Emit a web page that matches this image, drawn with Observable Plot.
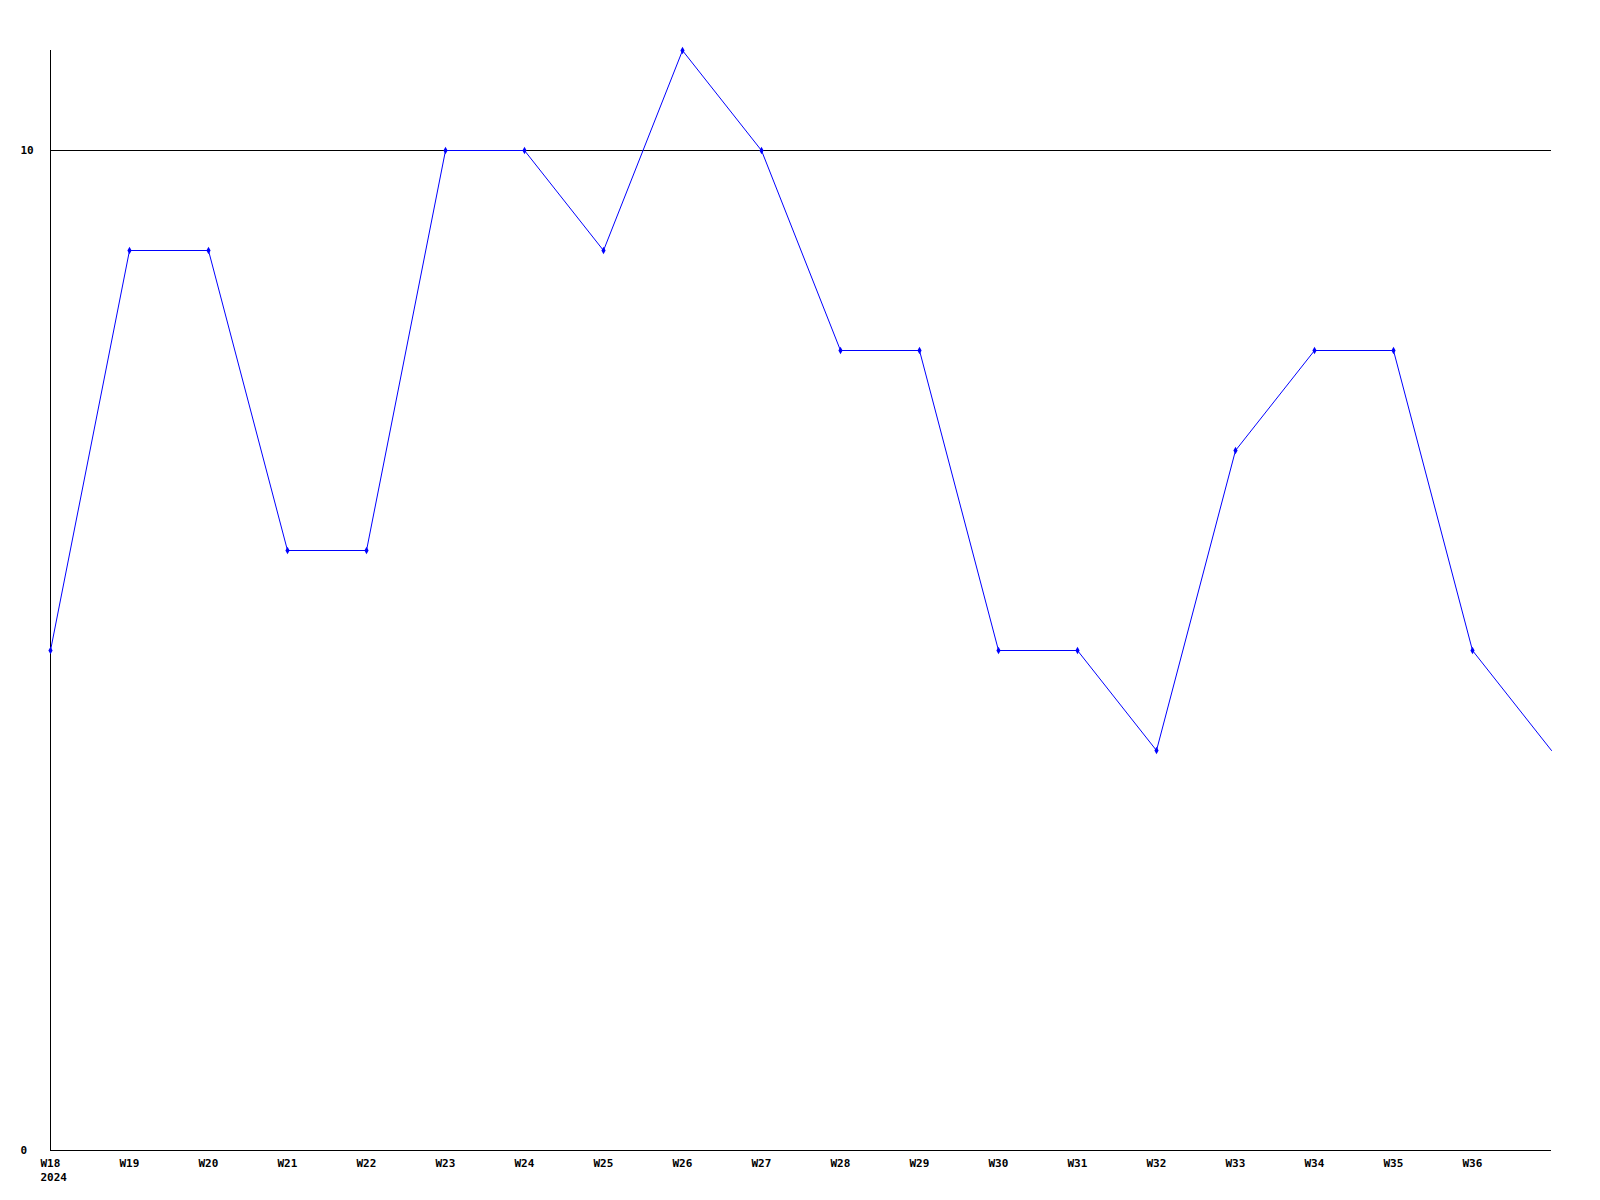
<!DOCTYPE html>
<html>
<head>
<meta charset="utf-8">
<script src="https://cdn.jsdelivr.net/npm/d3@7"></script>
<script src="https://cdn.jsdelivr.net/npm/@observablehq/plot@0.6"></script>
<style>
  html, body { margin: 0; padding: 0; background: #fff; }
  svg { display: block; }
</style>
</head>
<body>
<div id="chart"></div>
<script>
const weeks = ["W18","W19","W20","W21","W22","W23","W24","W25","W26","W27","W28","W29","W30","W31","W32","W33","W34","W35","W36","W37"];
const values = [5, 9, 9, 6, 6, 10, 10, 9, 11, 10, 8, 8, 5, 5, 4, 7, 8, 8, 5, 4];
const year = "2024";
const yTicks = [0, 10];

const data = weeks.map((w, i) => ({i, w, v: values[i]}));
const tickIdx = d3.range(0, weeks.length - 1);

const chart = Plot.plot({
  width: 1600,
  height: 1200,
  marginLeft: 50,
  marginRight: 49,
  marginTop: 50,
  marginBottom: 50,
  style: {fontFamily: "'DejaVu Sans Mono', monospace", fontSize: "11px", fontWeight: "bold", color: "#000", background: "#fff"},
  x: {domain: [0, weeks.length - 1], label: null},
  y: {domain: [0, 11], label: null},
  marks: [
    Plot.ruleY([10], {stroke: "#000", strokeWidth: 1}),
    Plot.ruleY([0], {stroke: "#000", strokeWidth: 1}),
    Plot.ruleX([0], {stroke: "#000", strokeWidth: 1}),
    Plot.axisY({ticks: yTicks, tickSize: 0, tickPadding: 3, textAnchor: "start", dx: -27, label: null, tickFormat: d => String(d)}),
    Plot.axisX({ticks: tickIdx, tickSize: 0, tickPadding: 6, textAnchor: "start", dx: -10, label: null, tickFormat: i => i === 0 ? weeks[i] + "\n" + year : weeks[i], lineHeight: 1.3}),
    Plot.line(data, {x: "i", y: "v", stroke: "#0000ff", strokeWidth: 1}),
    Plot.dot(data.slice(0, weeks.length - 1), {x: "i", y: "v", symbol: "diamond", r: 2.2, fill: "#0000ff", stroke: "none"})
  ]
});
document.getElementById("chart").appendChild(chart);
</script>
</body>
</html>
